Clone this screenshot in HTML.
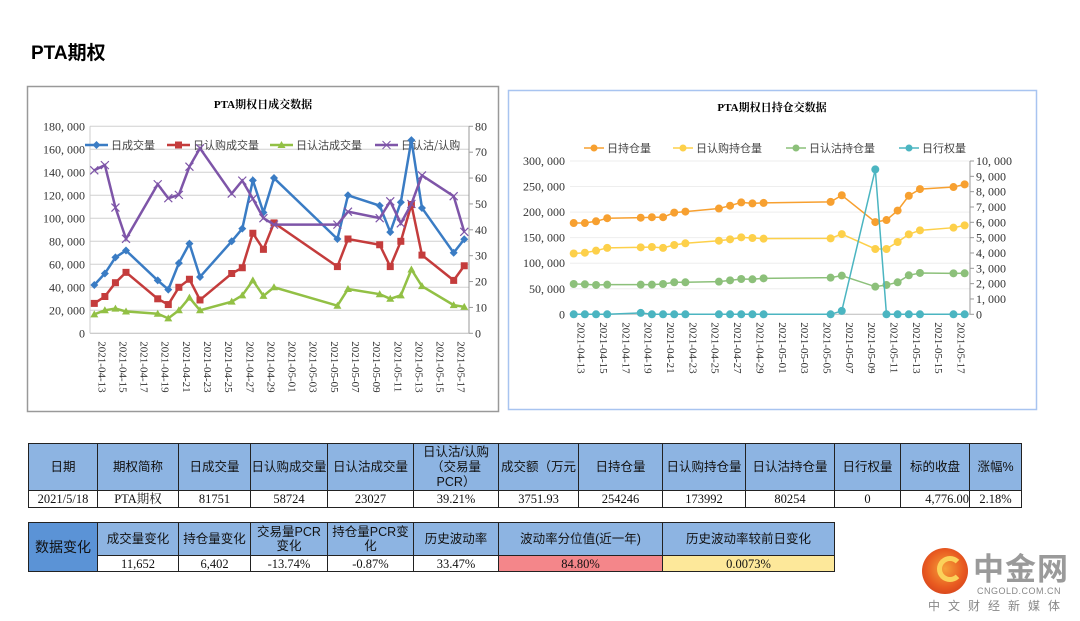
<!DOCTYPE html>
<html><head><meta charset="utf-8">
<style>
body{margin:0;width:1080px;height:621px;background:#fff;position:relative;overflow:hidden;font-family:"Liberation Serif","Noto Serif CJK SC","Noto Sans CJK SC",serif;}
.abs{position:absolute;}
table{border-collapse:collapse;position:absolute;table-layout:fixed;}
td{border:1px solid #222;text-align:center;padding:0;font-size:12.5px;color:#111;line-height:14px;overflow:hidden;white-space:nowrap;}
td.h{background:#8db4e2;font-family:"Liberation Sans","Noto Sans CJK SC",sans-serif;font-size:12.5px;white-space:normal;}
</style></head><body>
<div class="abs" style="left:31px;top:38px;font:bold 19px 'Liberation Sans','Noto Sans CJK SC',sans-serif;">PTA期权</div>

<svg class="abs" style="left:0;top:0" width="1080" height="430">
<rect x="27.5" y="86.5" width="471" height="325" fill="#fff" stroke="#999" stroke-width="1.5"/>
<rect x="508.5" y="90.5" width="528" height="319" fill="#fff" stroke="#a8c4f0" stroke-width="1.5"/>
<text x="263" y="108" text-anchor="middle" font-size="11" font-weight="bold" font-family="Liberation Serif,Noto Serif CJK SC,serif">PTA期权日成交数据</text>
<text x="772" y="111" text-anchor="middle" font-size="11" font-weight="bold" font-family="Liberation Serif,Noto Serif CJK SC,serif">PTA期权日持仓交数据</text>
<g id="L"></g><g id="R"></g>
</svg>

<table style="left:28px;top:443px;width:993px;">
<colgroup><col style="width:69px"><col style="width:81px"><col style="width:72px"><col style="width:77px"><col style="width:86px"><col style="width:85px"><col style="width:80px"><col style="width:84px"><col style="width:83px"><col style="width:89px"><col style="width:66px"><col style="width:69px"><col style="width:52px"></colgroup>
<tr style="height:47px"><td class="h">日期</td><td class="h">期权简称</td><td class="h">日成交量</td><td class="h">日认购成交量</td><td class="h">日认沽成交量</td><td class="h" style="line-height:15px">日认沽/认购<br>（交易量<br>PCR）</td><td class="h">成交额（万元</td><td class="h">日持仓量</td><td class="h">日认购持仓量</td><td class="h">日认沽持仓量</td><td class="h">日行权量</td><td class="h">标的收盘</td><td class="h">涨幅%</td></tr>
<tr style="height:17px"><td>2021/5/18</td><td>PTA期权</td><td>81751</td><td>58724</td><td>23027</td><td>39.21%</td><td>3751.93</td><td>254246</td><td>173992</td><td>80254</td><td>0</td><td style="text-align:right">4,776.00</td><td>2.18%</td></tr>
</table>

<table style="left:28px;top:522px;width:806px;">
<colgroup><col style="width:69px"><col style="width:81px"><col style="width:72px"><col style="width:77px"><col style="width:86px"><col style="width:85px"><col style="width:164px"><col style="width:172px"></colgroup>
<tr style="height:33px"><td class="h" rowspan="2" style="background:#5b93d6;font-size:14px">数据变化</td><td class="h">成交量变化</td><td class="h">持仓量变化</td><td class="h">交易量PCR<br>变化</td><td class="h">持仓量PCR变<br>化</td><td class="h">历史波动率</td><td class="h">波动率分位值(近一年)</td><td class="h">历史波动率较前日变化</td></tr>
<tr style="height:16px"><td>11,652</td><td>6,402</td><td>-13.74%</td><td>-0.87%</td><td>33.47%</td><td style="background:#f4868a">84.80%</td><td style="background:#fde89a">0.0073%</td></tr>
</table>

<div class="abs" style="left:922px;top:548px;width:46px;height:46px;border-radius:50%;background:radial-gradient(circle at 50% 45%,#f6a23a 0,#e85a20 55%,#c8321a 100%);"></div>
<div class="abs" style="left:937px;top:556px;width:16px;height:16px;border-radius:50%;border:5px solid #fbd25a;border-right-color:transparent;"></div>
<div class="abs" style="left:973px;top:549px;font:bold 31px 'Noto Sans CJK SC',sans-serif;color:#9a9a9a;letter-spacing:1px;line-height:36px;">中金网</div>
<div class="abs" style="left:977px;top:586px;font:9px 'Liberation Sans',sans-serif;color:#888;letter-spacing:0.5px;">CNGOLD.COM.CN</div>
<div class="abs" style="left:928px;top:597px;font:12px 'Noto Sans CJK SC',sans-serif;color:#888;letter-spacing:8px;">中文财经新媒体</div>

<script>
const days = [0,1,2,3,6,7,8,9,10,13,14,15,16,17,23,24,27,28,29,30,31,34,35];
const labelDates = ['2021-04-13','2021-04-15','2021-04-17','2021-04-19','2021-04-21','2021-04-23','2021-04-25','2021-04-27','2021-04-29','2021-05-01','2021-05-03','2021-05-05','2021-05-07','2021-05-09','2021-05-11','2021-05-13','2021-05-15','2021-05-17'];
const volTotal = [42000,52000,66000,72000,46000,38000,61000,78000,49000,80000,91000,133000,105000,135000,82000,120000,111000,88000,114000,168000,109000,70000,81751];
const volCall = [26000,32000,44000,53000,30000,25000,40000,47000,29000,52000,57000,87000,73000,96000,58000,82000,77000,58000,80000,112000,68000,46000,58724];
const volPut = [16500,20000,21500,19000,17000,13000,20000,31000,20000,27500,33000,46000,32500,40000,24000,38500,34000,30000,33000,55500,41000,24500,23027];
const volPcr = [63,65,48.6,36.5,57.6,52.2,53.5,64.4,71.5,54,59,52,44.5,42,42,47,44.5,51,42.5,50,61,53,39.21];
const oiTotal = [178600,178600,182000,188000,189000,190000,190000,199000,201000,207000,212500,219000,217000,218000,220000,233000,180500,184500,203000,232000,245000,249000,254246];
const oiCall = [119000,120500,124500,130000,131000,131700,130000,135600,139000,144000,146700,150600,149300,148000,148600,157000,127800,127800,141500,156500,164300,169500,173992];
const oiPut = [59300,58700,57400,58000,58000,58000,59300,62600,62600,63900,66500,69100,68500,70400,71700,75600,54100,57400,62600,76300,80900,80200,80254];
const exercise = [0,0,0,0,90,0,0,0,0,0,0,0,0,0,0,220,9450,0,0,0,0,0,0];
const leftTicks = [0,20000,40000,60000,80000,100000,120000,140000,160000,180000];
const leftRTicks = [0,10,20,30,40,50,60,70,80];
const rightTicks = [0,50000,100000,150000,200000,250000,300000];
const rightRTicks = [0,1000,2000,3000,4000,5000,6000,7000,8000,9000,10000];

const NS='http://www.w3.org/2000/svg';
function el(p,tag,at,txt){const e=document.createElementNS(NS,tag);for(const k in at)e.setAttribute(k,at[k]);if(txt!==undefined)e.textContent=txt;p.appendChild(e);return e;}
const fmt=v=>v.toLocaleString('en-US').replace(/,/g,', ');
function chart(g,cfg){
  const xs=d=>cfg.x0+d*cfg.dx, yL=v=>cfg.bot-(v/cfg.lmax)*(cfg.bot-cfg.top), yR=v=>cfg.bot-(v/cfg.rmax)*(cfg.bot-cfg.top);
  cfg.lt.forEach(t=>{
    if(t>0){const gl=el(g,'line',{x1:cfg.pl,x2:cfg.pr,y1:yL(t),y2:yL(t),stroke:cfg.grid,'stroke-width':1});
    
    }
    const tx=el(g,'text',{x:cfg.pl-5,y:yL(t)+4,'text-anchor':'end','font-size':12,fill:'#333','font-family':'Liberation Serif,serif'},fmt(t));
    
    
  });
  cfg.rt.forEach(t=>{
    const tx=el(g,'text',{x:cfg.pr+6,y:yR(t)+4,'font-size':12,fill:'#333','font-family':'Liberation Serif,serif'},fmt(t));
    
    
    el(g,'line',{x1:cfg.pr,x2:cfg.pr+4,y1:yR(t),y2:yR(t),stroke:'#999'});
  });
  el(g,'line',{x1:cfg.pl,x2:cfg.pr,y1:cfg.bot,y2:cfg.bot,stroke:'#bbb'});
  el(g,'line',{x1:cfg.pr,x2:cfg.pr,y1:cfg.top,y2:cfg.bot,stroke:'#999'});
  if(cfg.leftAxis) el(g,'line',{x1:cfg.pl,x2:cfg.pl,y1:cfg.top,y2:cfg.bot,stroke:'#ccc'});
  labelDates.forEach((d,i)=>{
    const x=xs(i*2)+4,y=cfg.bot+8;
    const tx=el(g,'text',{x:x,y:y,transform:`rotate(90 ${x} ${y})`,'font-size':11,fill:'#333','font-family':'Liberation Serif,serif'},d);
    
    
  });
  cfg.series.forEach((s,i)=>{
    const lx=cfg.legX[i],ly=cfg.legY,L=cfg.legL;
    el(g,'line',{x1:lx,x2:lx+L,y1:ly,y2:ly,stroke:s.color,'stroke-width':s.w});
    const c=lx+L/2;
    if(s.marker==='square') el(g,'rect',{x:c-3.5,y:ly-3.5,width:7,height:7,fill:s.color});
    else if(s.marker==='x') el(g,'path',{d:`M${c-4} ${ly-4}L${c+4} ${ly+4}M${c+4} ${ly-4}L${c-4} ${ly+4}`,stroke:s.color});
    else if(s.marker==='diamond') el(g,'polygon',{points:`${c},${ly-4} ${c+4},${ly} ${c},${ly+4} ${c-4},${ly}`,fill:s.color});
    else if(s.marker==='tri') el(g,'polygon',{points:`${c},${ly-4} ${c+4},${ly+3} ${c-4},${ly+3}`,fill:s.color});
    else el(g,'circle',{cx:c,cy:ly,r:3.5,fill:s.color});
    const tx=el(g,'text',{x:lx+L+3,y:ly+4,'font-size':11,fill:'#444','font-family':'Noto Sans CJK SC,sans-serif'},s.label);
    
    
  });
  cfg.series.forEach(s=>{
    const yf=s.right?yR:yL;
    const pts=days.map((d,i)=>xs(d)+','+yf(s.data[i])).join(' ');
    const pl=el(g,'polyline',{points:pts,fill:'none',stroke:s.color,'stroke-width':s.w});
    
    
    days.forEach((d,i)=>{
      const x=xs(d),y=yf(s.data[i]);
      let m;
      if(s.marker==='diamond') m=el(g,'polygon',{points:`${x},${y-4} ${x+4},${y} ${x},${y+4} ${x-4},${y}`,fill:s.color});
      else if(s.marker==='square') m=el(g,'rect',{x:x-3.5,y:y-3.5,width:7,height:7,fill:s.color});
      else if(s.marker==='tri') m=el(g,'polygon',{points:`${x},${y-4} ${x+4},${y+3} ${x-4},${y+3}`,fill:s.color});
      else if(s.marker==='x') m=el(g,'path',{d:`M${x-4} ${y-4}L${x+4} ${y+4}M${x+4} ${y-4}L${x-4} ${y+4}`,stroke:s.color,'stroke-width':1.2});
      else m=el(g,'circle',{cx:x,cy:y,r:4,fill:s.color});
      
      
    });
  });
}
chart(document.getElementById('L'),{x0:94.3,dx:10.57,top:126.3,bot:333.3,pl:90,pr:469,lmax:180000,rmax:80,lt:leftTicks,rt:leftRTicks,grid:'#d0d0d0',leftAxis:true,
  legY:145,legX:[85,167,270,375],legL:23,
  series:[
  {name:'volume',label:'日成交量',data:volTotal,color:'#3a7cc4',marker:'diamond',w:2.5},
  {name:'call-volume',label:'日认购成交量',data:volCall,color:'#c43c3c',marker:'square',w:2.5},
  {name:'put-volume',label:'日认沽成交量',data:volPut,color:'#92c045',marker:'tri',w:2.5},
  {name:'volume-pcr',label:'日认沽/认购',data:volPcr,color:'#7e55a8',marker:'x',w:2.5,right:true}]});
chart(document.getElementById('R'),{x0:573.7,dx:11.17,top:161,bot:314.3,pl:570,pr:970,lmax:300000,rmax:10000,lt:rightTicks,rt:rightRTicks,grid:'#eeeeee',leftAxis:false,
  legY:148,legX:[584,673,786,899],legL:20,
  series:[
  {name:'open-interest',label:'日持仓量',data:oiTotal,color:'#f7a030',marker:'circle',w:1.5},
  {name:'call-oi',label:'日认购持仓量',data:oiCall,color:'#fdd04a',marker:'circle',w:1.5},
  {name:'put-oi',label:'日认沽持仓量',data:oiPut,color:'#8cc07a',marker:'circle',w:1.5},
  {name:'exercise',label:'日行权量',data:exercise,color:'#4bb5c1',marker:'circle',w:1.5,right:true}]});
</script>
</body></html>
